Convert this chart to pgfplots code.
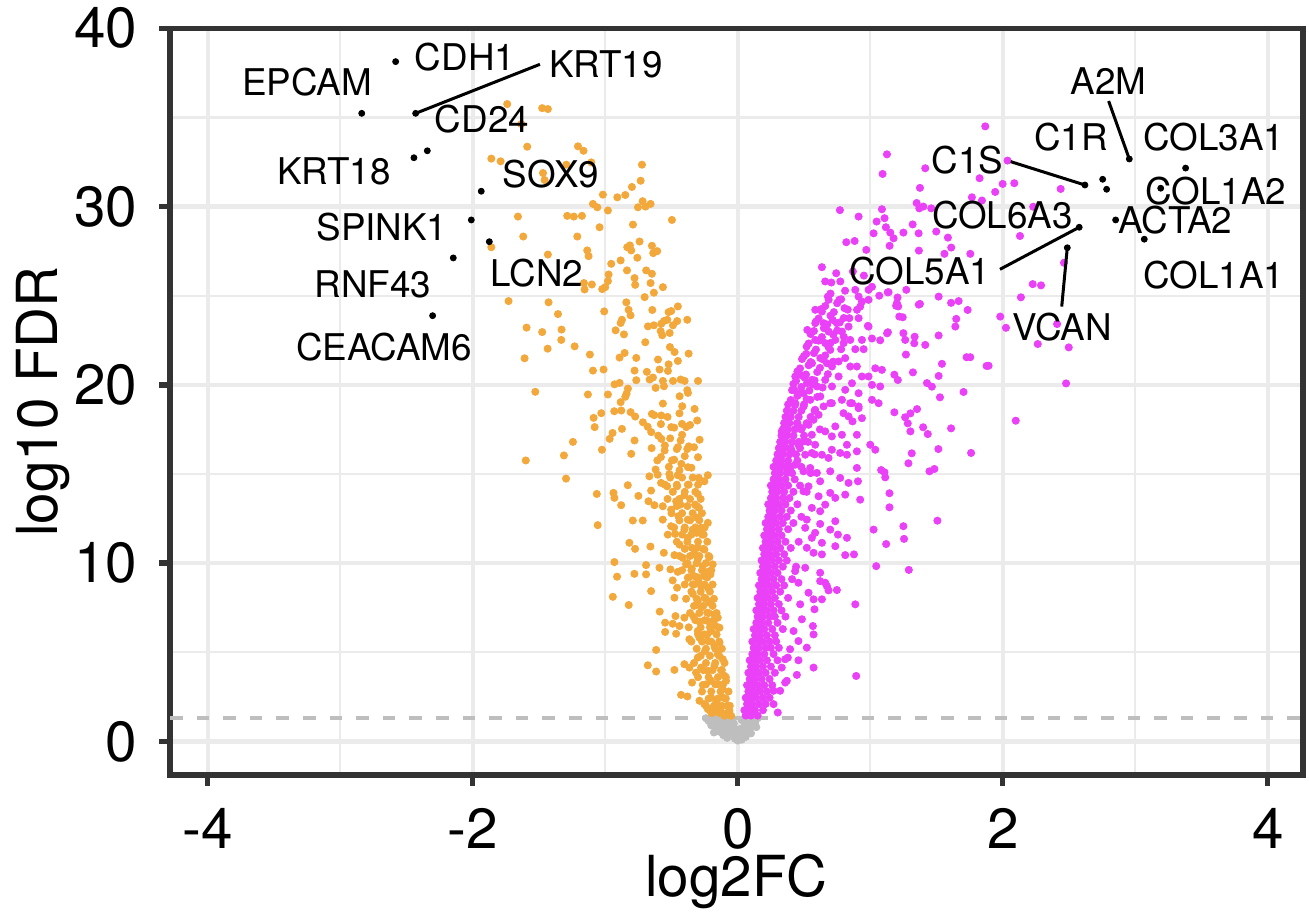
\documentclass[border=0pt]{standalone}
\usepackage{fontspec}
\setmainfont{TeX Gyre Heros}
\usepackage{pgfplots}
\pgfplotsset{compat=1.18}
\definecolor{cup}{HTML}{EA40F7}
\definecolor{cdown}{HTML}{F3A83B}
\definecolor{cns}{HTML}{BEBEBE}
\definecolor{cgrid}{HTML}{EBEBEB}
\definecolor{cframe}{HTML}{333333}
\newcommand{\genefont}{\fontsize{18.4pt}{20pt}\selectfont}
\newcommand{\tickfont}{\fontsize{28.3pt}{30pt}\selectfont}
\begin{document}
\begin{tikzpicture}
\begin{axis}[
  scale only axis, width=566.5pt, height=373.3pt,
  xmin=-4.285, xmax=4.266, ymin=-1.88, ymax=40.0,
  xtick={-4,-2,0,2,4}, ytick={0,10,20,30,40},
  minor xtick={-3,-1,1,3}, minor ytick={5,15,25,35},
  grid=both,
  major grid style={cgrid, line width=2.2pt},
  minor grid style={cgrid, line width=1.1pt},
  axis line style={cframe, line width=2.65pt},
  major tick style={cframe, line width=2.65pt},
  minor tick length=0pt,
  major tick length=5.3pt,
  tick align=outside,
  xtick pos=bottom, ytick pos=left,
  /pgf/number format/assume math mode=true,
  tick label style={font=\tickfont, inner sep=0pt},
  xticklabel style={anchor=north, yshift=-11pt},
  yticklabel style={anchor=east, xshift=-11pt},
  xlabel={log2FC}, ylabel={log10 FDR},
  label style={font=\tickfont, inner sep=0pt},
  xlabel style={at={(axis description cs:0.5,-0.106)}, anchor=north},
  ylabel style={at={(axis description cs:-0.0883,0.5)}, anchor=south},
  clip mode=individual,
]
% reference line
\addplot[cns, line width=2pt, dash pattern=on 6.3pt off 7pt] coordinates {(-4.285,1.3) (4.266,1.3)};
% not significant
\addplot[only marks, mark=*, mark size=1.8pt, color=cns, mark options={draw=none, fill=cns}] table {
x y
-0.17 1.25
-0.15 1.0
-0.13 1.2
-0.12 0.8
-0.1 1.1
-0.09 0.6
-0.08 0.95
-0.07 1.25
-0.06 0.45
-0.05 0.8
-0.04 0.3
-0.03 1.0
-0.02 0.15
-0.01 0.5
0.0 0.05
0.01 0.3
0.02 0.7
0.03 0.1
0.04 0.45
0.05 0.9
0.06 0.25
0.07 0.6
0.08 1.1
0.09 0.75
0.1 1.25
0.11 0.95
0.12 1.2
0.13 1.05
-0.14 0.55
-0.11 0.35
0.1 0.45
-0.16 0.75
0.0 0.25
-0.02 0.7
0.03 1.2
-0.08 0.2
-0.22 1.15
-0.2 0.9
-0.24 1.3
0.15 1.3
0.14 0.8
-0.18 0.5
0.06 0.55
-0.05 1.2
};
% down-regulated
\addplot[only marks, mark=*, mark size=1.8pt, color=cdown, mark options={draw=none, fill=cdown}] table {
x y
-1.74 35.75
-1.476 35.52
-1.433 35.47
-1.634 34.63
-1.589 33.36
-1.206 33.38
-1.164 33.13
-1.86 32.69
-1.79 32.54
-1.47 31.88
-1.458 31.49
-1.294 32.35
-1.106 32.48
-0.723 32.35
-0.733 31.45
-0.799 31.1
-0.849 30.65
-0.909 30.52
-1.018 30.67
-1.093 30.15
-1.06 29.96
-0.98 29.78
-0.753 29.96
-0.696 30.0
-0.658 30.15
-0.718 30.3
-0.497 29.25
-0.791 28.99
-1.043 28.84
-1.659 29.44
-1.287 29.48
-1.237 29.44
-1.176 29.48
-1.619 28.32
-1.211 28.32
-0.741 28.04
-0.834 27.72
-0.804 27.54
-0.814 27.82
-0.648 27.8
-0.608 27.5
-0.638 27.39
-0.758 27.13
-0.884 26.98
-0.955 26.79
-1.136 27.54
-1.126 27.22
-1.433 27.31
-0.836 26.42
-0.691 26.42
-0.648 26.23
-0.975 26.19
-0.98 25.82
-1.0 25.48
-1.023 25.37
-0.779 25.99
-0.774 25.61
-0.658 25.71
-0.565 25.48
-1.161 25.71
-1.101 25.63
-1.156 25.35
-0.703 24.92
-0.633 25.17
-0.841 24.63
-1.73 24.7
-1.428 24.63
-1.357 23.97
-0.824 24.21
-0.809 23.9
-0.874 23.65
-0.884 23.47
-0.645 24.2
-1.008 24.12
-0.522 24.08
-0.502 24.14
-0.452 24.4
-0.557 23.58
-0.577 23.43
-0.532 23.65
-0.489 23.34
-0.457 23.58
-0.381 23.65
-0.678 23.28
-0.633 23.34
-0.582 23.02
-0.57 22.78
-0.514 22.91
-1.594 23.21
-1.476 22.96
-1.33 23.1
-1.332 22.52
-0.922 23.06
-0.859 22.83
-0.698 22.39
-0.512 22.12
-0.477 21.84
-1.435 22.03
-1.231 22.16
-1.116 21.7
-0.892 21.53
-0.854 21.79
-0.766 21.51
-0.602 21.42
-0.522 21.15
-0.452 21.34
-0.371 21.75
-1.609 21.49
-1.093 20.8
-1.013 20.86
-0.779 20.8
-0.686 20.73
-0.59 20.86
-0.527 20.78
-0.64 20.41
-0.665 20.3
-0.565 20.22
-0.557 19.92
-0.489 20.22
-0.431 20.3
-0.401 20.22
-0.3 20.22
-0.766 20.26
-0.93 20.03
-0.892 20.11
-0.62 19.83
-0.829 19.79
-0.839 19.51
-0.849 19.33
-0.439 19.36
-0.381 19.7
-0.376 19.55
-1.528 19.61
-1.131 19.46
-0.98 19.46
-0.884 19.03
-0.565 18.95
-0.419 18.8
-1.86 27.72
-0.932 18.52
-0.879 18.56
-0.809 18.47
-1.03 18.41
-1.088 18.15
-1.08 17.63
-0.945 17.3
-0.874 17.53
-0.774 18.22
-0.716 17.9
-0.648 18.37
-0.577 18.28
-0.502 17.63
-0.421 17.81
-0.389 17.63
-0.306 18.0
-0.326 18.65
-0.288 16.92
-0.33 16.5
-0.431 16.88
-0.452 16.5
-0.381 16.4
-0.552 16.32
-0.577 16.97
-0.653 17.35
-0.779 16.88
-0.804 16.13
-0.967 16.97
-1.025 16.36
-1.244 16.8
-1.312 16.04
-1.6 15.76
-0.607 15.76
-0.497 15.76
-0.426 15.57
-0.376 15.38
-0.3 15.94
-1.296 14.74
-1.064 13.88
-0.938 13.94
-0.83 14.37
-0.667 14.87
-0.604 14.96
-0.579 14.5
-0.516 15.0
-0.453 14.93
-0.377 14.4
-0.294 14.78
-0.252 14.59
-0.226 14.93
-0.458 14.31
-0.533 14.31
-0.654 14.07
-0.302 13.88
-0.931 13.66
-0.88 13.25
-0.75 13.77
-0.674 13.47
-0.629 13.25
-0.566 13.19
-0.503 13.0
-0.465 13.47
-0.433 13.28
-0.403 13.81
-0.322 13.28
-0.292 13.1
-0.448 12.63
-0.377 12.44
-0.307 12.54
-0.226 12.26
-0.792 12.39
-0.717 12.39
-0.566 12.44
-1.057 12.13
-0.503 12.07
-0.528 11.6
-0.473 11.64
-0.403 11.88
-0.34 11.88
-0.31 11.7
-0.257 11.6
-0.277 11.98
-0.377 11.42
-0.44 11.04
-0.347 10.86
-0.302 10.86
-0.252 10.76
-0.327 10.49
-0.214 10.34
-0.818 11.14
-0.775 10.8
-0.659 10.93
-0.558 10.58
-0.478 10.45
-0.415 10.3
-0.931 10.06
-0.692 9.89
-0.591 9.74
-0.508 9.65
-0.453 9.51
-0.39 9.93
-0.347 9.7
-0.302 10.2
-0.264 9.83
-0.226 9.51
-0.189 9.93
-0.377 9.18
-0.327 9.27
-0.297 8.99
-0.252 9.27
-0.206 9.37
-0.911 9.24
-0.78 9.4
-0.692 9.37
-0.491 9.03
-0.458 8.62
-0.34 8.81
-0.277 8.71
-0.226 8.62
-0.943 8.11
-0.823 7.65
-0.654 8.43
-0.478 8.06
-0.34 8.28
-0.302 7.87
-0.252 8.06
-0.214 7.78
-0.277 7.5
-0.231 7.22
-0.176 7.13
-0.589 7.28
-0.47 7.03
-0.403 6.94
-0.548 6.66
-0.491 6.6
-0.44 6.47
-0.332 6.98
-0.289 6.72
-0.226 6.75
-0.176 6.53
-0.151 6.94
-0.302 6.19
-0.252 6.0
-0.201 6.19
-0.138 6.38
-0.548 6.14
-0.465 6.04
-0.365 5.73
-0.289 5.82
-0.226 5.63
-0.176 5.35
-0.138 5.54
-0.616 5.13
-0.247 5.07
-0.151 4.89
-0.113 4.61
-0.302 4.7
-0.679 4.27
-0.616 3.92
-0.478 4.01
-0.403 4.33
-0.365 4.14
-0.315 3.86
-0.277 4.14
-0.226 3.96
-0.176 4.23
-0.126 3.99
-0.101 3.68
-0.345 3.3
-0.264 3.17
-0.201 3.4
-0.151 3.21
-0.113 2.93
-0.088 3.4
-0.428 2.61
-0.38 2.52
-0.289 2.28
-0.252 2.09
-0.201 2.46
-0.164 2.18
-0.113 2.46
-0.08 1.99
-0.063 1.72
-0.131 1.72
-0.189 1.62
-0.05 1.44
-0.101 1.44
-0.151 1.9
-0.226 1.81
-0.20 1.6
-0.14 1.6
-0.08 1.6
-0.24 2.0
-0.18 2.0
-0.12 2.0
-0.06 2.0
-0.22 2.4
-0.15 2.4
-0.09 2.4
-0.27 2.8
-0.20 2.8
-0.13 2.8
-0.07 2.8
-0.24 3.2
-0.17 3.2
-0.11 3.2
-0.30 3.6
-0.22 3.6
-0.15 3.6
-0.09 3.6
-0.26 4.0
-0.19 4.0
-0.12 4.0
-0.33 4.4
-0.24 4.4
-0.17 4.4
-0.10 4.4
-0.28 4.8
-0.21 4.8
-0.14 4.8
-0.31 5.2
-0.24 5.2
-0.17 5.2
-0.12 5.2
-0.35 5.6
-0.27 5.6
-0.20 5.6
-0.14 5.6
-0.30 6.0
-0.23 6.0
-0.16 6.0
-0.37 6.4
-0.28 6.4
-0.21 6.4
-0.15 6.4
-0.32 6.8
-0.25 6.8
-0.18 6.8
-0.36 7.2
-0.29 7.2
-0.22 7.2
-0.16 7.2
-0.33 7.6
-0.26 7.6
-0.19 7.6
-0.39 8.0
-0.31 8.0
-0.24 8.0
-0.18 8.0
-0.35 8.4
-0.28 8.4
-0.21 8.4
-0.40 8.8
-0.33 8.8
-0.25 8.8
-0.19 8.8
-0.37 9.2
-0.30 9.2
-0.23 9.2
-0.42 9.6
-0.35 9.6
-0.27 9.6
-0.20 9.6
-0.38 10.0
-0.31 10.0
-0.24 10.0
-0.44 10.4
-0.36 10.4
-0.29 10.4
-0.22 10.4
-0.40 10.8
-0.33 10.8
-0.26 10.8
-0.46 11.2
-0.38 11.2
-0.30 11.2
-0.23 11.2
-0.42 11.6
-0.35 11.6
-0.27 11.6
-0.48 12.0
-0.40 12.0
-0.32 12.0
-0.25 12.0
-0.44 12.4
-0.36 12.4
-0.29 12.4
-0.50 12.8
-0.42 12.8
-0.34 12.8
-0.27 12.8
-0.46 13.2
-0.38 13.2
-0.31 13.2
-0.53 13.6
-0.44 13.6
-0.36 13.6
-0.28 13.6
-0.49 14.0
-0.40 14.0
-0.32 14.0
-0.55 14.4
-0.46 14.4
-0.37 14.4
-0.30 14.4
-0.51 14.8
-0.42 14.8
-0.34 14.8
-0.62 15.25
-0.52 15.4
-0.44 15.2
-0.35 15.35
-0.58 15.95
-0.48 15.8
-0.40 16.0
-0.65 16.45
-0.55 16.6
-0.46 16.4
-0.37 16.55
-0.60 17.15
-0.51 17.0
-0.42 17.2
-0.68 17.65
-0.58 17.8
-0.48 17.6
-0.36 17.75
-0.63 18.3
-0.53 18.2
-0.44 18.4
};
% up-regulated
\addplot[only marks, mark=*, mark size=1.8pt, color=cup, mark options={draw=none, fill=cup}] table {
x y
1.868 34.5
1.126 32.93
1.093 31.83
1.415 32.15
1.375 31.05
1.825 31.59
1.767 30.52
1.843 30.34
1.943 30.82
1.999 31.27
2.087 31.31
2.036 32.58
0.771 29.8
0.912 29.44
1.088 29.85
1.35 30.2
1.37 29.9
1.40 30.0
1.46 29.9
1.048 29.16
1.108 29.35
1.118 28.84
1.151 28.54
1.176 28.22
1.25 28.54
1.32 29.0
1.365 28.5
1.498 28.6
1.586 28.26
1.611 27.7
1.56 27.35
1.755 27.35
1.367 27.53
0.819 28.0
0.882 28.07
0.97 27.57
1.025 28.5
1.146 27.8
0.635 26.6
0.743 26.26
0.66 25.8
0.706 25.74
0.774 25.8
0.869 26.36
0.952 26.13
1.013 25.5
1.068 25.0
1.138 25.2
1.272 25.33
1.206 24.9
1.211 24.4
1.375 24.54
1.516 24.95
1.61 24.6
1.667 24.7
1.735 24.2
1.649 23.7
1.642 23.27
1.516 22.77
1.415 22.24
1.335 22.7
1.332 22.33
1.25 22.9
1.264 22.52
1.133 22.95
1.219 23.83
0.987 23.27
1.013 22.6
1.075 22.5
1.269 21.7
1.755 21.55
1.893 21.07
1.541 21.18
1.322 20.7
1.516 20.5
1.428 20.1
1.465 19.9
1.526 19.3
1.704 19.6
1.981 23.83
2.024 23.2
1.727 21.55
1.878 21.06
0.887 25.33
0.987 25.33
1.201 24.58
1.182 20.57
1.208 20.27
1.132 25.19
1.195 24.44
1.245 23.79
1.366 24.5
1.127 22.89
0.585 24.21
0.635 24.11
0.686 24.77
0.766 24.77
0.806 24.3
0.842 23.74
0.9 24.21
0.912 24.95
0.937 24.67
0.987 24.77
0.924 24.39
0.912 23.74
0.982 23.31
0.525 23.08
0.585 23.46
0.648 23.46
0.686 22.99
0.716 23.64
0.748 23.46
0.786 22.99
0.836 23.27
0.517 21.74
0.585 22.52
0.66 22.34
0.698 21.96
0.736 22.52
0.799 22.34
0.849 22.52
0.887 22.0
0.937 22.52
0.95 22.0
0.56 21.21
0.623 21.5
0.673 21.21
0.711 21.03
0.761 21.31
0.811 21.5
0.849 21.03
0.899 21.03
0.937 20.47
0.987 20.47
1.038 20.93
1.088 20.84
0.434 20.47
0.472 20.56
0.522 20.09
0.56 20.28
0.598 19.91
0.66 20.28
0.711 19.91
0.761 20.47
0.811 19.72
0.862 20.09
0.912 19.53
1.013 20.0
1.075 19.91
0.426 19.72
0.497 19.53
0.547 19.16
0.623 19.35
0.698 18.97
0.786 19.16
0.862 18.97
0.912 18.79
1.013 19.16
1.063 18.97
0.434 18.97
0.497 18.79
0.648 18.79
2.437 30.99
2.23 29.99
2.13 28.35
2.137 24.91
2.264 22.29
2.462 26.85
2.226 25.65
2.289 25.58
2.41 23.41
2.498 22.1
2.478 20.08
2.098 17.99
1.182 18.46
1.353 18.64
1.263 18.18
1.303 18.4
1.283 17.84
1.303 17.39
1.399 17.62
1.434 17.24
1.61 17.56
1.514 16.4
1.313 16.16
1.761 16.18
1.288 15.6
1.447 15.15
1.484 15.28
1.082 15.22
1.107 15.1
1.113 14.81
1.145 13.92
1.145 13.13
1.25 12.07
1.255 11.36
1.12 11.07
1.507 12.38
1.291 9.62
0.433 18.88
0.584 18.6
0.71 18.97
0.849 18.97
0.912 18.69
0.798 18.41
0.836 18.23
0.866 17.95
0.899 17.2
0.937 18.13
0.736 17.67
0.786 17.2
0.71 17.11
0.824 16.64
0.899 16.27
1.0 16.64
1.038 16.36
0.773 16.18
0.71 16.36
0.824 16.08
0.899 15.34
0.332 17.39
0.358 17.57
0.446 17.85
0.484 17.57
0.534 17.76
0.572 18.04
0.61 18.32
0.66 17.39
0.559 17.2
0.496 16.83
0.584 16.64
0.635 16.08
0.685 15.9
0.358 16.46
0.408 16.27
0.458 16.64
0.509 16.08
0.559 16.18
0.32 15.71
0.37 15.43
0.433 15.52
0.496 15.15
0.547 15.34
0.597 15.06
0.698 15.15
0.773 14.78
0.836 14.5
0.907 14.59
0.924 13.56
1.025 11.88
1.045 9.83
0.887 7.69
0.894 3.67
0.572 4.14
0.567 6.47
0.579 7.41
0.521 5.26
0.458 4.55
0.446 3.73
0.378 4.7
0.37 3.4
0.302 1.62
0.27 2.09
0.32 2.84
0.736 12.35
0.698 11.88
0.756 11.6
0.824 11.42
0.736 10.95
0.811 10.45
0.877 10.49
0.622 12.2
0.635 11.14
0.584 11.7
0.559 11.42
0.521 10.86
0.572 10.58
0.635 10.49
0.66 13.28
0.622 12.91
0.559 13.1
0.521 12.44
0.496 14.03
0.534 14.31
0.622 14.59
0.61 13.75
0.698 13.94
0.736 13.66
0.811 13.84
0.509 9.74
0.622 9.46
0.66 8.9
0.622 8.99
0.685 8.47
0.748 8.49
0.534 8.34
0.572 7.97
0.471 7.69
0.572 6.0
0.421 6.19
0.458 5.63
0.395 5.17
0.484 6.85
0.358 4.61
0.332 4.14
0.358 3.3
0.27 2.84
0.509 11.98
0.433 9.55
0.458 8.9
0.635 7.97
0.673 8.71
0.06 1.45
0.10 1.45
0.15 1.45
0.05 1.75
0.09 1.75
0.13 1.75
0.19 1.75
0.07 2.1
0.11 2.1
0.16 2.1
0.21 2.1
0.06 2.45
0.10 2.45
0.14 2.45
0.19 2.45
0.24 2.45
0.08 2.8
0.12 2.8
0.17 2.8
0.22 2.8
0.07 3.15
0.11 3.15
0.15 3.15
0.20 3.15
0.26 3.15
0.09 3.5
0.13 3.5
0.18 3.5
0.24 3.5
0.08 3.85
0.12 3.85
0.16 3.85
0.21 3.85
0.28 3.85
0.10 4.2
0.14 4.2
0.19 4.2
0.25 4.2
0.09 4.55
0.13 4.55
0.17 4.55
0.22 4.55
0.30 4.55
0.11 4.9
0.15 4.9
0.20 4.9
0.27 4.9
0.12 5.25
0.16 5.25
0.21 5.25
0.25 5.25
0.31 5.25
0.11 5.6
0.15 5.6
0.19 5.6
0.24 5.6
0.29 5.6
0.13 5.95
0.17 5.95
0.22 5.95
0.28 5.95
0.12 6.3
0.16 6.3
0.20 6.3
0.26 6.3
0.34 6.3
0.14 6.65
0.18 6.65
0.23 6.65
0.30 6.65
0.15 7.0
0.19 7.0
0.24 7.0
0.28 7.0
0.36 7.0
0.14 7.35
0.18 7.35
0.22 7.35
0.27 7.35
0.33 7.35
0.16 7.7
0.20 7.7
0.25 7.7
0.31 7.7
0.15 8.05
0.19 8.05
0.23 8.05
0.28 8.05
0.38 8.05
0.17 8.4
0.21 8.4
0.26 8.4
0.32 8.4
0.16 8.75
0.20 8.75
0.24 8.75
0.29 8.75
0.35 8.75
0.18 9.1
0.22 9.1
0.27 9.1
0.33 9.1
0.41 9.1
0.17 9.45
0.21 9.45
0.25 9.45
0.30 9.45
0.19 9.8
0.23 9.8
0.28 9.8
0.34 9.8
0.44 9.8
0.18 10.15
0.22 10.15
0.26 10.15
0.31 10.15
0.37 10.15
0.20 10.5
0.24 10.5
0.29 10.5
0.35 10.5
0.19 10.85
0.23 10.85
0.27 10.85
0.32 10.85
0.40 10.85
0.21 11.2
0.25 11.2
0.30 11.2
0.36 11.2
0.46 11.2
0.20 11.55
0.24 11.55
0.28 11.55
0.33 11.55
0.22 11.9
0.26 11.9
0.31 11.9
0.38 11.9
0.21 12.25
0.25 12.25
0.29 12.25
0.34 12.25
0.42 12.25
0.23 12.6
0.27 12.6
0.32 12.6
0.37 12.6
0.48 12.6
0.24 12.95
0.28 12.95
0.33 12.95
0.40 12.95
0.23 13.3
0.27 13.3
0.31 13.3
0.36 13.3
0.45 13.3
0.25 13.65
0.29 13.65
0.34 13.65
0.39 13.65
0.26 14.0
0.30 14.0
0.35 14.0
0.42 14.0
0.52 14.0
0.25 14.35
0.29 14.35
0.33 14.35
0.38 14.35
0.47 14.35
0.27 14.7
0.31 14.7
0.36 14.7
0.43 14.7
0.28 15.05
0.32 15.05
0.37 15.05
0.41 15.05
0.55 15.05
0.27 15.4
0.31 15.4
0.35 15.4
0.40 15.4
0.48 15.4
0.29 15.75
0.33 15.75
0.38 15.75
0.45 15.75
0.30 16.1
0.34 16.1
0.39 16.1
0.44 16.1
0.58 16.1
0.31 16.45
0.35 16.45
0.40 16.45
0.47 16.45
0.32 16.8
0.36 16.8
0.41 16.8
0.46 16.8
0.53 16.8
0.33 17.15
0.37 17.15
0.42 17.15
0.50 17.15
0.34 17.5
0.38 17.5
0.43 17.5
0.48 17.5
0.62 17.5
0.35 17.85
0.39 17.85
0.45 17.85
0.52 17.85
0.36 18.2
0.40 18.2
0.46 18.2
0.55 18.2
0.37 18.55
0.42 18.55
0.48 18.55
0.58 18.55
0.38 18.9
0.43 18.9
0.50 18.9
0.40 19.15
0.45 19.38
0.52 19.2
0.60 19.32
0.41 19.7
0.465 19.52
0.54 19.68
0.42 20.05
0.48 19.88
0.565 20.02
0.64 19.85
0.44 20.22
0.505 20.4
0.58 20.25
0.45 20.75
0.515 20.58
0.60 20.72
0.68 20.6
0.47 20.92
0.535 21.1
0.62 20.95
0.485 21.45
0.55 21.28
0.645 21.42
0.72 21.3
0.50 21.62
0.575 21.78
0.66 21.65
0.52 22.15
0.59 21.98
0.685 22.12
0.78 22.0
0.535 22.32
0.61 22.48
0.70 22.35
0.55 22.85
0.635 22.68
0.72 22.82
0.80 22.7
0.575 23.02
0.65 23.18
0.75 23.05
0.59 23.55
0.675 23.38
0.77 23.5
0.61 23.72
0.70 23.88
0.80 23.75
0.63 24.25
0.725 24.08
0.83 24.22
0.66 24.42
0.75 24.58
0.68 24.95
0.78 24.8
0.70 25.12
0.81 25.28
};
% labelled genes
\addplot[only marks, mark=*, mark size=1.5pt, color=black, mark options={draw=none, fill=black}] table {
x y
-2.582 38.13
-2.838 35.23
-2.431 35.23
-2.444 32.74
-2.343 33.13
-1.936 30.86
-2.011 29.25
-1.875 28.03
-2.147 27.12
-2.303 23.88
2.955 32.67
2.62 31.21
2.754 31.53
2.784 30.97
3.38 32.16
3.192 31.03
2.852 29.25
3.068 28.17
2.577 28.84
2.487 27.69
};
% connector segments
\addplot[black, line width=1.5pt] coordinates {(-2.431,35.23) (-1.493,37.98)};
\addplot[black, line width=1.5pt] coordinates {(2.799,35.92) (2.955,32.67)};
\addplot[black, line width=1.5pt] coordinates {(2.06,32.52) (2.62,31.21)};
\addplot[black, line width=1.5pt] coordinates {(1.979,26.48) (2.577,28.84)};
\addplot[black, line width=1.5pt] coordinates {(2.445,24.39) (2.487,27.69)};
% labels
\begin{scope}[every node/.style={font=\genefont, inner sep=0pt, anchor=center}]
\node at (axis cs:-2.059,38.39) {CDH1};
\node at (axis cs:-3.251,36.99) {EPCAM};
\node at (axis cs:-0.995,37.99) {KRT19};
\node at (axis cs:-1.931,34.91) {CD24};
\node at (axis cs:-3.048,32.0) {KRT18};
\node at (axis cs:-1.41,31.83) {SOX9};
\node at (axis cs:-2.685,28.86) {SPINK1};
\node at (axis cs:-1.515,26.28) {LCN2};
\node at (axis cs:-2.753,25.66) {RNF43};
\node at (axis cs:-2.67,22.13) {CEACAM6};
\node at (axis cs:2.799,37.04) {A2M};
\node at (axis cs:2.515,33.9) {C1R};
\node at (axis cs:3.594,33.9) {COL3A1};
\node at (axis cs:1.734,32.61) {C1S};
\node at (axis cs:3.609,30.85) {COL1A2};
\node at (axis cs:1.998,29.5) {COL6A3};
\node at (axis cs:3.302,29.25) {ACTA2};
\node at (axis cs:3.594,26.16) {COL1A1};
\node at (axis cs:1.375,26.39) {COL5A1};
\node at (axis cs:2.448,23.25) {VCAN};
\end{scope}
\end{axis}
\pgfresetboundingbox
\useasboundingbox ([shift={(-85pt,-71.5pt)}]current axis.south west) rectangle ([shift={(3pt,14.15pt)}]current axis.north east);
\end{tikzpicture}
\end{document}
